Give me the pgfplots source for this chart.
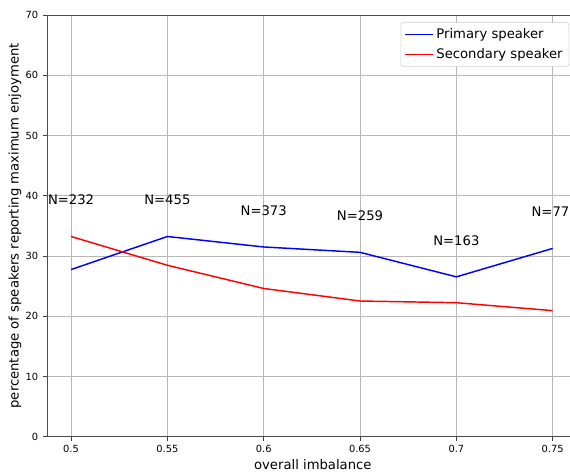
\documentclass[border=0pt]{standalone}
\usepackage{pgfplots}
\pgfplotsset{compat=1.18}
\usepackage{fontspec}
\setmainfont{DejaVu Sans}
\begin{document}
\begin{tikzpicture}
\path (-33.84pt,-25.92pt) rectangle (376.56pt,314.64pt);
\begin{axis}[
  at={(0pt,0pt)}, anchor=south west,
  scale only axis, width=376.56pt, height=303.84pt,
  xmin=0.4875, xmax=0.75877, ymin=0, ymax=70,
  separate axis lines,
  axis x line*=bottom, axis y line*=left,
  xtick={0.5,0.55,0.6,0.65,0.7,0.75},
  xticklabels={0.5,0.55,0.6,0.65,0.7,0.75},
  ytick={0,10,20,30,40,50,60,70},
  grid=major,
  major grid style={color=black!28, line width=0.55pt},
  tick align=outside, xtick pos=bottom, ytick pos=left, major tick length=2.8pt,
  every tick/.style={black!75, line width=0.55pt},
  axis line style={black!70, line width=0.6pt, -},
  tick label style={font=\fontsize{7.1}{8.5}\selectfont},
  /pgf/number format/assume math mode=true,
  xlabel={overall imbalance},
  ylabel={percentage of speakers reporting maximum enjoyment},
  xlabel style={font=\fontsize{9.5}{11}\selectfont, at={(axis description cs:0.5087,-0.066)}, anchor=center},
  ylabel style={font=\fontsize{9.5}{11}\selectfont, at={(axis description cs:-0.0612,0.5)}, anchor=center, rotate=0},
  legend style={at={(axis description cs:0.999,0.9834)}, anchor=north east,
    font=\fontsize{9.5}{11}\selectfont, draw=black!20, rounded corners=2pt,
    inner sep=2.5pt, row sep=1.5pt},
  legend cell align=left,
  legend image code/.code={\draw[#1] (0pt,0pt) -- (20pt,0pt);},
  extra description/.code={\draw[black!70, line width=0.6pt] (rel axis cs:0,1) -- (rel axis cs:1,1);},
]
\addplot[blue, line width=1.05pt] coordinates {
  (0.5,27.74) (0.55,33.23) (0.6,31.49) (0.65,30.6) (0.7,26.53) (0.75,31.25)};
\addlegendentry{Primary speaker}
\addplot[red, line width=1.05pt] coordinates {
  (0.5,33.23) (0.55,28.45) (0.6,24.6) (0.65,22.52) (0.7,22.24) (0.75,20.92)};
\addlegendentry{Secondary speaker}
\node[font=\fontsize{9.5}{11}\selectfont, anchor=center, inner sep=0pt] at (axis cs:0.5,39.3) {N=232};
\node[font=\fontsize{9.5}{11}\selectfont, anchor=center, inner sep=0pt] at (axis cs:0.55,39.3) {N=455};
\node[font=\fontsize{9.5}{11}\selectfont, anchor=center, inner sep=0pt] at (axis cs:0.6,37.5) {N=373};
\node[font=\fontsize{9.5}{11}\selectfont, anchor=center, inner sep=0pt] at (axis cs:0.65,36.7) {N=259};
\node[font=\fontsize{9.5}{11}\selectfont, anchor=center, inner sep=0pt] at (axis cs:0.7,32.6) {N=163};
\node[font=\fontsize{9.5}{11}\selectfont, anchor=east, inner sep=0pt] at (axis cs:0.75877,37.4) {N=77};
\end{axis}
\end{tikzpicture}
\end{document}
